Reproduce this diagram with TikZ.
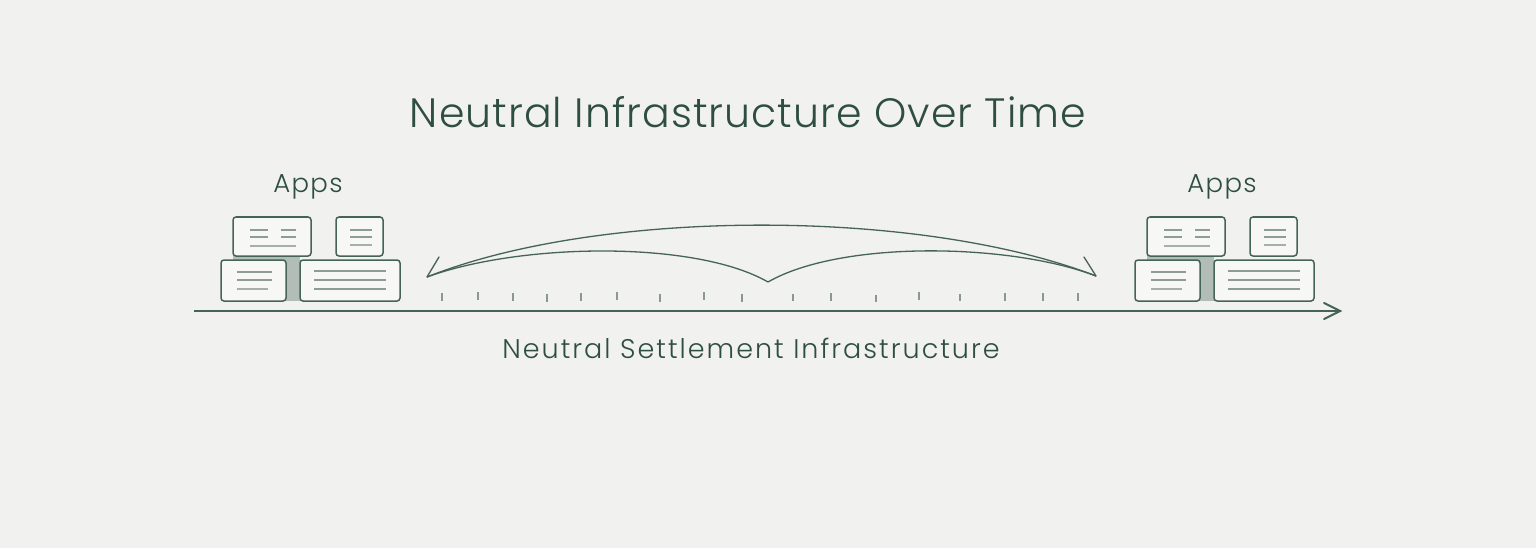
\documentclass[tikz,border=0pt]{standalone}
\usepackage{fontspec}
\IfFontExistsTF{Poppins Light}{\setmainfont{Poppins Light}}{\setmainfont{Poppins}}
\definecolor{bg}{HTML}{F1F1EF}
\definecolor{ink}{HTML}{2E4D43}
\definecolor{lineink}{HTML}{46635A}
\definecolor{boxfill}{HTML}{F7F7F5}
\definecolor{bar}{HTML}{8E9C96}
\definecolor{conn}{HTML}{B3BDB8}
\definecolor{tick}{HTML}{8A9792}
\tikzset{
  appbox/.style={draw=lineink, line width=1.5pt, fill=boxfill, rounded corners=3pt, inner sep=0pt},
  barline/.style={draw=bar, line width=1.8pt},
  textlabel/.style={text=ink, inner sep=0pt},
  arc/.style={draw=lineink, line width=1.3pt},
  tickmark/.style={draw=tick, line width=1.1pt}
}
\begin{document}
\begin{tikzpicture}[x=1pt,y=-1pt]
\fill[bg] (0,0) rectangle (1536,548);
\useasboundingbox (0,0) rectangle (1536,548);

\node[textlabel, font=\fontsize{41}{45}\selectfont\addfontfeature{LetterSpace=2.6}] (title) at (748,112) {Neutral Infrastructure Over Time};
\node[textlabel, font=\fontsize{27}{30}\selectfont\addfontfeature{LetterSpace=7.5}] (axislabel) at (751,348) {Neutral Settlement Infrastructure};

% axis
\coordinate (axs) at (194,311);
\coordinate (axe) at (1340,311);
\draw[draw=lineink, line width=2pt] (axs) -- (axe);
\draw[draw=lineink, line width=2pt, line cap=round, line join=miter] (1324,303) -- (axe) -- (1324,319);

% ticks
\foreach \x/\a/\b in {442/293/301, 478/292/300, 513/293/301, 547/294/302, 581/293/301, 617/292/300, 660/294/302, 704/292/300, 742/294/302, 793/294/301, 831/293/301, 876/295/302, 919/292/300, 960/294/301, 1005/293/301, 1043/293/301, 1078/293/301}
  \draw[tickmark] (\x,\a) -- (\x,\b);

% arcs
\coordinate (tipL) at (427,277);
\coordinate (tipR) at (1096,276);
\coordinate (cusp) at (768,282);
\draw[arc] (tipL) .. controls (600,208) and (920,208) .. (tipR);
\draw[arc] (tipL) .. controls (520,243) and (695,240) .. (cusp);
\draw[arc] (cusp) .. controls (841,240) and (1010,243) .. (tipR);
\draw[arc, line cap=round] (tipL) -- (439,257);
\draw[arc, line cap=round] (tipR) -- (1084,257);

% app groups
\foreach \g/\dx in {L/0, R/914} {
\begin{scope}[xshift=\dx pt]
  \node[textlabel, font=\fontsize{26}{29}\selectfont\addfontfeature{LetterSpace=5}] (apps\g) at (308,187) {Apps};
  \fill[conn] (233,256) rectangle (300,260);
  \fill[conn] (286,258) rectangle (300,301);
  \node[appbox, minimum width=78pt, minimum height=39pt] (a\g) at (272,236.5) {};
  \node[appbox, minimum width=47pt, minimum height=39pt] (b\g) at (359.5,236.5) {};
  \node[appbox, minimum width=65pt, minimum height=41pt] (c\g) at (253.5,280.5) {};
  \node[appbox, minimum width=100pt, minimum height=41pt] (d\g) at (350,280.5) {};
  % lines in box a
  \draw[barline] (250,230) -- (268,230); \draw[barline] (281,230) -- (296,230);
  \draw[barline] (250,237) -- (268,237); \draw[barline] (281,237) -- (296,237);
  \draw[barline, line width=2.4pt, draw=bar!80] (250,246) -- (296,246);
  % lines in box b
  \draw[barline] (350,230) -- (372,230);
  \draw[barline] (350,237) -- (372,237);
  \draw[barline, line width=2.2pt, draw=bar!80] (350,245) -- (372,245);
  % lines in box c
  \draw[barline] (237,272) -- (272,272);
  \draw[barline, line width=2.2pt] (237,280) -- (272,280);
  \draw[barline, draw=bar!80] (237,289) -- (268,289);
  % lines in box d
  \draw[barline] (314,271) -- (386,271);
  \draw[barline, line width=2.4pt] (314,280) -- (386,280);
  \draw[barline] (314,289) -- (386,289);
\end{scope}
}
\end{tikzpicture}
\end{document}
